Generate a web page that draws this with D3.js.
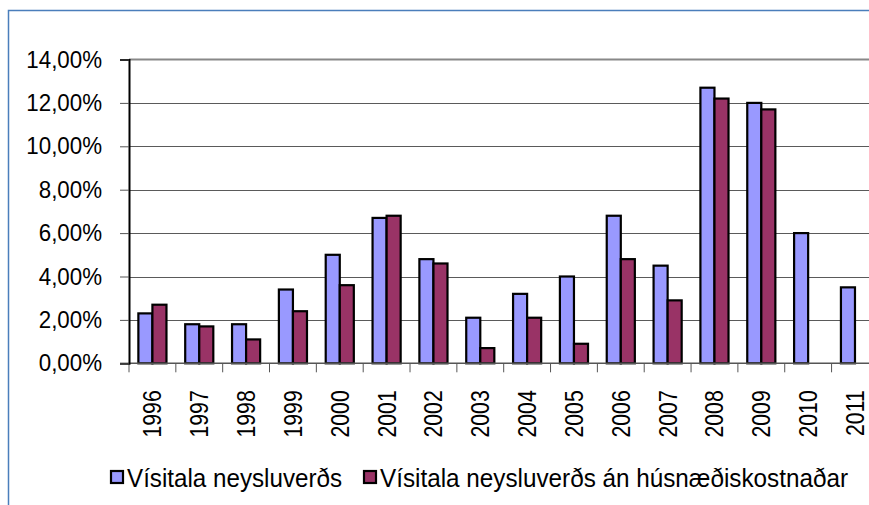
<!DOCTYPE html>
<html>
<head>
<meta charset="utf-8">
<script src="https://cdn.jsdelivr.net/npm/d3@7"></script>
<style>
  body { margin: 0; background: #fff; }
  svg { display: block; font-family: "Liberation Sans", Arial, sans-serif; }
</style>
</head>
<body>
<svg id="chart" width="869" height="505"></svg>
<script>
// years on the x axis
var years = ["1996", "1997", "1998", "1999", "2000", "2001", "2002", "2003",
             "2004", "2005", "2006", "2007", "2008", "2009", "2010", "2011"];
// Vísitala neysluverðs (%)
var cpi = [2.3, 1.8, 1.8, 3.4, 5.0, 6.7, 4.8, 2.1, 3.2, 4.0, 6.8, 4.5, 12.7, 12.0, 6.0, 3.5];
// Vísitala neysluverðs án húsnæðiskostnaðar (%), none for 2010 and 2011
var cpiNoHousing = [2.7, 1.7, 1.1, 2.4, 3.6, 6.8, 4.6, 0.7, 2.1, 0.9, 4.8, 2.9, 12.2, 11.7, null, null];
var seriesNames = ["Vísitala neysluverðs", "Vísitala neysluverðs án húsnæðiskostnaðar"];
var yTicks = [0, 2, 4, 6, 8, 10, 12, 14];

var colors = ["#9999ff", "#993366"];
var svg = d3.select("#chart");

var plotLeft = 129, plotRight = 878.4, plotTop = 59.5, plotBottom = 363.3;

var x0 = d3.scaleBand().domain(years).range([plotLeft, plotRight])
  .paddingInner(0.4).paddingOuter(0.2);
var x1 = d3.scaleBand().domain([0, 1]).range([0, x0.bandwidth()]);
var y = d3.scaleLinear().domain([0, 14]).range([plotBottom, plotTop]);

// outer chart border (blue)
svg.append("path")
  .attr("d", "M8.5,505 V10.5 H869")
  .attr("fill", "none")
  .attr("stroke", "#4a7ebb")
  .attr("stroke-width", 1.5);

// gridlines
svg.append("g").selectAll("line")
  .data(yTicks.filter(function(d) { return d > 0 && d < 14; }))
  .enter().append("line")
    .attr("x1", plotLeft).attr("x2", plotRight)
    .attr("y1", function(d) { return Math.round(y(d)) + 0.5; })
    .attr("y2", function(d) { return Math.round(y(d)) + 0.5; })
    .attr("stroke", "#5a5a5a")
    .attr("stroke-width", 1);

// top edge of plot area
svg.append("line")
  .attr("x1", plotLeft).attr("x2", plotRight)
  .attr("y1", plotTop).attr("y2", plotTop)
  .attr("stroke", "#888")
  .attr("stroke-width", 2.2);

// bars
var rows = years.map(function(yr, i) { return {year: yr, vals: [cpi[i], cpiNoHousing[i]]}; });
svg.append("g").selectAll("g")
  .data(rows)
  .enter().append("g")
    .attr("transform", function(d) { return "translate(" + x0(d.year) + ",0)"; })
  .selectAll("rect")
    .data(function(d) { return d.vals.map(function(v, k) { return {v: v, k: k}; }).filter(function(e) { return e.v != null; }); })
    .enter().append("rect")
      .attr("x", function(d) { return x1(d.k); })
      .attr("width", x1.bandwidth())
      .attr("y", function(d) { return y(d.v); })
      .attr("height", function(d) { return plotBottom - y(d.v); })
      .attr("fill", function(d) { return colors[d.k]; })
      .attr("stroke", "#000")
      .attr("stroke-width", 2.2);

// x axis
var xAxis = svg.append("g")
  .attr("transform", "translate(0," + plotBottom + ")");
xAxis.append("line")
  .attr("x1", plotLeft).attr("x2", plotRight)
  .attr("stroke", "#555").attr("stroke-width", 1.5);
xAxis.selectAll(".tick")
  .data(d3.range(years.length + 1))
  .enter().append("line")
    .attr("x1", function(i) { return plotLeft + i * x0.step(); })
    .attr("x2", function(i) { return plotLeft + i * x0.step(); })
    .attr("y1", 0).attr("y2", 9)
    .attr("stroke", "#555").attr("stroke-width", 1);
// labels are tall and narrow in the original, so squeeze along the text
xAxis.selectAll("text")
  .data(years)
  .enter().append("text")
    .attr("transform", function(d) {
      return "translate(" + (x0(d) + x0.bandwidth() / 2 + 9) + ",27) rotate(-90) scale(0.85,1)";
    })
    .attr("text-anchor", "end")
    .attr("font-size", "25px")
    .attr("fill", "#000")
    .text(function(d) { return d; });

// y axis
var yAxis = svg.append("g")
  .attr("transform", "translate(" + plotLeft + ",0)")
  .call(d3.axisLeft(y).tickValues(yTicks).tickSize(9).tickPadding(17)
    .tickFormat(function(d) { return d3.format(".2f")(d).replace(".", ",") + "%"; }));
yAxis.select(".domain").attr("stroke", "#000").attr("stroke-width", 2);
yAxis.selectAll(".tick line").attr("stroke", "#555");
yAxis.selectAll(".tick text")
  .attr("font-size", "24px")
  .attr("font-family", "Liberation Sans, Arial, sans-serif")
  .attr("fill", "#000")
  .attr("x", -27 / 0.93)
  .attr("transform", "scale(0.93,1)");

// legend
var legendLen = [215, 468];
var legend = svg.append("g");
var lx = 111;
seriesNames.forEach(function(name, k) {
  legend.append("rect")
    .attr("x", lx).attr("y", 471)
    .attr("width", 12).attr("height", 12)
    .attr("fill", colors[k])
    .attr("stroke", "#000").attr("stroke-width", 2.2);
  legend.append("text")
    .attr("x", lx + 16).attr("y", 487)
    .attr("font-size", "25px")
    .attr("fill", "#000")
    .attr("textLength", legendLen[k])
    .attr("lengthAdjust", "spacingAndGlyphs")
    .text(name);
  lx = lx + 16 + legendLen[k] + 22;
});
</script>
</body>
</html>
